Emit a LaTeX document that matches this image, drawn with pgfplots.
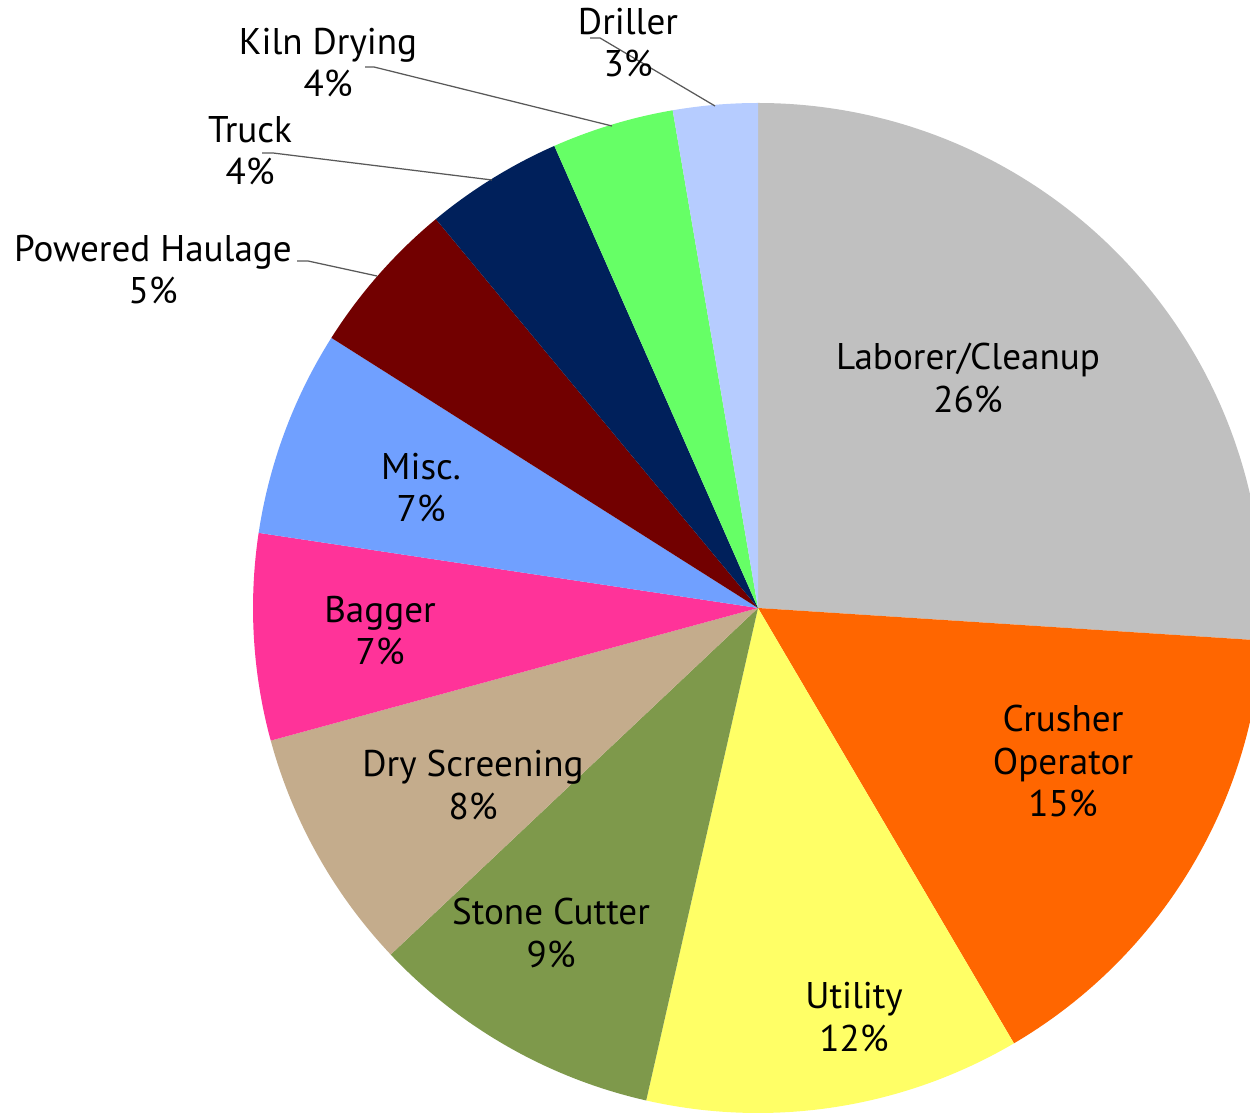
\documentclass[border=0pt]{standalone}
\usepackage{pgfplots}
\pgfplotsset{compat=1.18}
\usepackage{fontspec}
\setmainfont{PT Sans}
\definecolor{cLab}{HTML}{C0C0C0}
\definecolor{cCru}{HTML}{FF6600}
\definecolor{cUti}{HTML}{FFFF66}
\definecolor{cSto}{HTML}{7E994B}
\definecolor{cDry}{HTML}{C4AC8C}
\definecolor{cBag}{HTML}{FF3399}
\definecolor{cMis}{HTML}{70A0FF}
\definecolor{cPow}{HTML}{720000}
\definecolor{cTru}{HTML}{00205B}
\definecolor{cKil}{HTML}{66FF66}
\definecolor{cDri}{HTML}{B6CCFF}
\definecolor{leader}{HTML}{595959}
\tikzset{lbl/.style={font=\fontsize{10.4}{11.8}\selectfont,align=center,inner sep=0pt}}
\begin{document}
\begin{tikzpicture}
\begin{axis}[x=0.28pt,y=0.28pt,xmin=0,xmax=1250,ymin=0,ymax=1116,
  y dir=reverse,hide axis,clip=true]
\pgfplotsextra{
  \gdef\curang{90}
  \foreach \v/\c in {26.0/cLab,15.5/cCru,12.0/cUti,9.4/cSto,7.8/cDry,6.6/cBag,6.6/cMis,5.0/cPow,4.4/cTru,3.9/cKil,2.7/cDri}{
    \pgfmathsetmacro\nextang{\curang-360*\v/99.9}
    \fill[\c] (axis cs:758,608) -- ++(\curang:141.4pt) arc[start angle=\curang,end angle=\nextang,radius=141.4pt] -- cycle;
    \xdef\curang{\nextang}
  }
  \draw[leader,line width=0.35pt] (axis cs:297,261) -- (axis cs:308,261) -- (axis cs:377,276);
  \draw[leader,line width=0.35pt] (axis cs:262,153) -- (axis cs:273,153) -- (axis cs:492,180);
  \draw[leader,line width=0.35pt] (axis cs:365,67) -- (axis cs:374,67) -- (axis cs:612,126);
  \draw[leader,line width=0.35pt] (axis cs:590,38) -- (axis cs:600,38) -- (axis cs:715,106);
  \node[lbl] at (axis cs:968,378) {Laborer/Cleanup\\26\%};
  \node[lbl] at (axis cs:1063,761) {Crusher\\Operator\\15\%};
  \node[lbl] at (axis cs:854,1017) {Utility\\12\%};
  \node[lbl] at (axis cs:551,933) {Stone Cutter\\9\%};
  \node[lbl] at (axis cs:473,785) {Dry Screening\\8\%};
  \node[lbl] at (axis cs:380,631) {Bagger\\7\%};
  \node[lbl] at (axis cs:421,488) {Misc.\\7\%};
  \node[lbl] at (axis cs:153,270) {Powered Haulage\\5\%};
  \node[lbl] at (axis cs:250,151) {Truck\\4\%};
  \node[lbl] at (axis cs:328,63) {Kiln Drying\\4\%};
  \node[lbl] at (axis cs:628,43) {Driller\\3\%};
}
\end{axis}
\pgfresetboundingbox
\path[use as bounding box] (current axis.south west) rectangle (current axis.north east);
\end{tikzpicture}
\end{document}
